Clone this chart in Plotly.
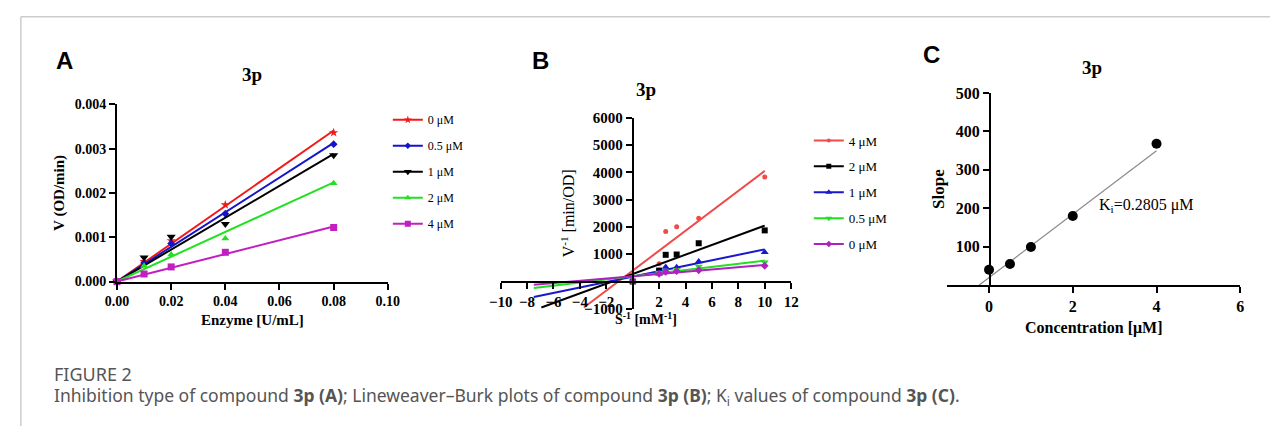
import plotly.graph_objects as go

W, H = 1282, 434

# ---------------- data ----------------
# Panel A: velocity vs enzyme concentration
A_enzyme = [0, 0.01, 0.02, 0.04, 0.08]
A_names = ["0 μM", "0.5 μM", "1 μM", "2 μM", "4 μM"]
A_v_0 = [0, 0.00045, 0.00092, 0.00173, 0.00336]
A_v_05 = [0, 0.00042, 0.00086, 0.00153, 0.00310]
A_v_1 = [0, 0.00054, 0.00101, 0.00130, 0.00285]
A_v_2 = [0, 0.00035, 0.00061, 0.00097, 0.00222]
A_v_4 = [0, 0.00017, 0.00033, 0.00066, 0.00122]
A_fit_x = [0, 0.08]
A_fit_0 = [0, 0.00341]
A_fit_05 = [0, 0.00313]
A_fit_1 = [0, 0.00288]
A_fit_2 = [0, 0.00224]
A_fit_4 = [0, 0.00124]
A_ticks_x = [0, 0.02, 0.04, 0.06, 0.08, 0.10]
A_ticks_y = [0, 0.001, 0.002, 0.003, 0.004]

# Panel B: Lineweaver-Burk
B_sinv = [0, 2, 2.5, 3.33, 5, 10]
B_names = ["4 μM", "2 μM", "1 μM", "0.5 μM", "0 μM"]
B_v_4 = [0, 650, 1837, 2003, 2321, 3827]
B_v_2 = [0, 400, 978, 989, 1402, 1873]
B_v_1 = [0, 280, 530, 520, 730, 1075]
B_v_05 = [0, 320, 380, 430, 553, 710]
B_v_0 = [0, 280, 350, 380, 412, 576]
B_fit_4_x = [-3.70, 10]
B_fit_4_y = [-954, 4053]
B_fit_2_x = [-6.92, 10]
B_fit_2_y = [-954, 2049]
B_fit_1_x = [-7.49, 10]
B_fit_1_y = [-565, 1177]
B_fit_05_x = [-7.49, 10]
B_fit_05_y = [-237, 767]
B_fit_0_x = [-7.49, 10]
B_fit_0_y = [-117, 611]
B_ticks_x = [-10, -8, -6, -4, -2, 2, 4, 6, 8, 10, 12]
B_ticks_y = [-1000, 1000, 2000, 3000, 4000, 5000, 6000]

# Panel C: slope vs inhibitor concentration
C_conc = [0, 0.5, 1, 2, 4]
C_slope = [40, 55, 99, 180, 368]
C_fit_x = [-0.235, 4.0]
C_fit_y = [0, 350]
C_ticks_x = [0, 2, 4, 6]
C_ticks_y = [100, 200, 300, 400, 500]

# ---------------- helpers: page pixel -> paper fraction ----------------
def px_x(p):
    return p / W

def px_y(p):
    return 1 - p / H

SERIF = "Liberation Serif"
fig = go.Figure()

# ---------------- Panel A ----------------
A_series = [
    (A_names[0], A_v_0, A_fit_0, "#f21818", "star", 7),
    (A_names[1], A_v_05, A_fit_05, "#1414cc", "diamond", 6),
    (A_names[2], A_v_1, A_fit_1, "#000000", "triangle-down", 8),
    (A_names[3], A_v_2, A_fit_2, "#22e022", "triangle-up", 7),
    (A_names[4], A_v_4, A_fit_4, "#c21fc2", "square", 7),
]
for i, (nm, vals, fit, col, sym, sz) in enumerate(A_series):
    fig.add_trace(go.Scatter(x=A_fit_x, y=fit, mode="lines", line=dict(color=col, width=2),
                             xaxis="x", yaxis="y", showlegend=False, hoverinfo="skip"))
    fig.add_trace(go.Scatter(x=A_enzyme, y=vals, mode="markers",
                             marker=dict(color=col, symbol=sym, size=sz),
                             xaxis="x", yaxis="y", showlegend=False, cliponaxis=False))
    fig.add_trace(go.Scatter(x=[None], y=[None], mode="lines+markers", name=nm,
                             line=dict(color=col, width=2), marker=dict(color=col, symbol=sym, size=sz - 1),
                             xaxis="x", yaxis="y", legend="legend", legendgroup="a%d" % i))

# ---------------- Panel B ----------------
B_series = [
    (B_names[0], B_v_4, B_fit_4_x, B_fit_4_y, "#f04a4a", "circle", 5),
    (B_names[1], B_v_2, B_fit_2_x, B_fit_2_y, "#000000", "square", 6),
    (B_names[2], B_v_1, B_fit_1_x, B_fit_1_y, "#1818cc", "triangle-up", 7),
    (B_names[3], B_v_05, B_fit_05_x, B_fit_05_y, "#20e020", "triangle-down", 7),
    (B_names[4], B_v_0, B_fit_0_x, B_fit_0_y, "#b020c0", "diamond", 6),
]
for i, (nm, vals, fx, fy, col, sym, sz) in enumerate(B_series):
    fig.add_trace(go.Scatter(x=fx, y=fy, mode="lines", line=dict(color=col, width=2),
                             xaxis="x2", yaxis="y2", showlegend=False, hoverinfo="skip"))
    fig.add_trace(go.Scatter(x=B_sinv, y=vals, mode="markers",
                             marker=dict(color=col, symbol=sym, size=sz),
                             xaxis="x2", yaxis="y2", showlegend=False, cliponaxis=False))
    fig.add_trace(go.Scatter(x=[None], y=[None], mode="lines+markers", name=nm,
                             line=dict(color=col, width=2), marker=dict(color=col, symbol=sym, size=sz - 1),
                             xaxis="x2", yaxis="y2", legend="legend2", legendgroup="b%d" % i))

# ---------------- Panel C ----------------
fig.add_trace(go.Scatter(x=C_fit_x, y=C_fit_y, mode="lines", line=dict(color="#8a8a8a", width=1.2),
                         xaxis="x3", yaxis="y3", showlegend=False, hoverinfo="skip"))
fig.add_trace(go.Scatter(x=C_conc, y=C_slope, mode="markers", marker=dict(color="#000000", size=10),
                         xaxis="x3", yaxis="y3", showlegend=False, cliponaxis=False))


def tf(size):
    return dict(family=SERIF, size=size, color="#000000", weight="bold")


def axc(ticksize):
    return dict(showline=True, linecolor="#000000", linewidth=2, ticks="outside", ticklen=6,
                tickwidth=2, tickcolor="#000000", showgrid=False, zeroline=False, tickfont=tf(ticksize))


fig.update_layout(
    width=W, height=H,
    margin=dict(l=0, r=0, t=0, b=0),
    paper_bgcolor="#ffffff", plot_bgcolor="rgba(0,0,0,0)",
    hovermode=False,
    xaxis=dict(domain=[px_x(107), px_x(383)], range=[0, 0.1], tickvals=A_ticks_x, tickformat=".2f",
               anchor="y", title=dict(text="Enzyme [U/mL]", font=tf(15), standoff=6), **axc(14)),
    yaxis=dict(domain=[px_y(284), px_y(100)], range=[0, 0.004], tickvals=A_ticks_y, tickformat=".3f",
               anchor="x", title=dict(text="V (OD/min)", font=tf(15), standoff=6), **axc(14)),
    xaxis2=dict(domain=[px_x(498), px_x(794)], range=[-10, 12], tickvals=B_ticks_x,
                anchor="free", position=px_y(284),
                title=dict(text="S<sup>-1</sup> [mM<sup>-1</sup>]", font=tf(14), standoff=4), **axc(15)),
    yaxis2=dict(domain=[px_y(312.3), px_y(114)], range=[-1000, 6000], tickvals=B_ticks_y,
                anchor="free", position=px_x(632.5),
                title=dict(text="V<sup>-1</sup> [min/OD]", font=dict(family=SERIF, size=16, color="#000000"),
                           standoff=4), **axc(15)),
    xaxis3=dict(domain=[px_x(953), px_x(1251.7)], range=[-1, 6], tickvals=C_ticks_x,
                anchor="y3", title=dict(text="Concentration [μM]", font=tf(16), standoff=8), **axc(16)),
    yaxis3=dict(domain=[px_y(287.7), px_y(88.3)], range=[0, 500], tickvals=C_ticks_y,
                anchor="free", position=px_x(996.7),
                title=dict(text="Slope", font=tf(17), standoff=6), **axc(16)),
    legend=dict(x=px_x(383), y=px_y(101), xanchor="left", yanchor="top",
                font=dict(family=SERIF, size=12, color="#000000"), bgcolor="rgba(0,0,0,0)",
                tracegroupgap=7, itemclick=False),
    legend2=dict(x=px_x(812), y=px_y(122), xanchor="left", yanchor="top",
                 font=dict(family=SERIF, size=13, color="#000000"), bgcolor="rgba(0,0,0,0)",
                 tracegroupgap=6, itemclick=False),
)

ann = []
# panel letters
for txt, x, y in [("A", 54, 54), ("B", 539, 55), ("C", 937.5, 48.5)]:
    ann.append(dict(text=txt, x=px_x(x), y=px_y(y), xref="paper", yref="paper", showarrow=False,
                    xanchor="center", yanchor="middle",
                    font=dict(family="Liberation Sans", size=24, color="#000000", weight="bold")))
# panel titles
for x, y in [(245, 69), (646, 85), (1100.5, 62)]:
    ann.append(dict(text="3p", x=px_x(x), y=px_y(y), xref="paper", yref="paper", showarrow=False,
                    xanchor="center", yanchor="middle",
                    font=dict(family=SERIF, size=19, color="#000000", weight="bold")))
# Ki annotation
ann.append(dict(text="K<sub>i</sub>=0.2805 μM", x=2.57, y=207, xref="x3", yref="y3", showarrow=False,
                xanchor="left", yanchor="middle", font=dict(family=SERIF, size=16, color="#000000")))
# caption
ann.append(dict(text="FIGURE 2", x=px_x(41), y=px_y(380.5), xref="paper", yref="paper", showarrow=False,
                xanchor="left", yanchor="middle", font=dict(family="Noto Sans", size=18, color="#555555")))
ann.append(dict(text="Inhibition type of compound <b>3p (A)</b>; Lineweaver–Burk plots of compound <b>3p (B)</b>; "
                     "K<sub>i</sub> values of compound <b>3p (C)</b>.",
                x=px_x(41), y=px_y(403), xref="paper", yref="paper", showarrow=False,
                xanchor="left", yanchor="middle", font=dict(family="Noto Sans", size=17.5, color="#555555")))
fig.update_layout(annotations=ann)

# frame lines of the figure page
fig.update_layout(shapes=[
    dict(type="line", xref="paper", yref="paper", x0=px_x(9), x1=1, y0=px_y(9), y1=px_y(9),
         line=dict(color="#cccccc", width=1.5)),
    dict(type="line", xref="paper", yref="paper", x0=px_x(9), x1=px_x(9), y0=px_y(9), y1=0,
         line=dict(color="#cccccc", width=1.5)),
])

fig.write_html("out.html", config={"displayModeBar": False},
               post_script="document.body.style.margin='0';document.body.style.overflow='hidden';")
